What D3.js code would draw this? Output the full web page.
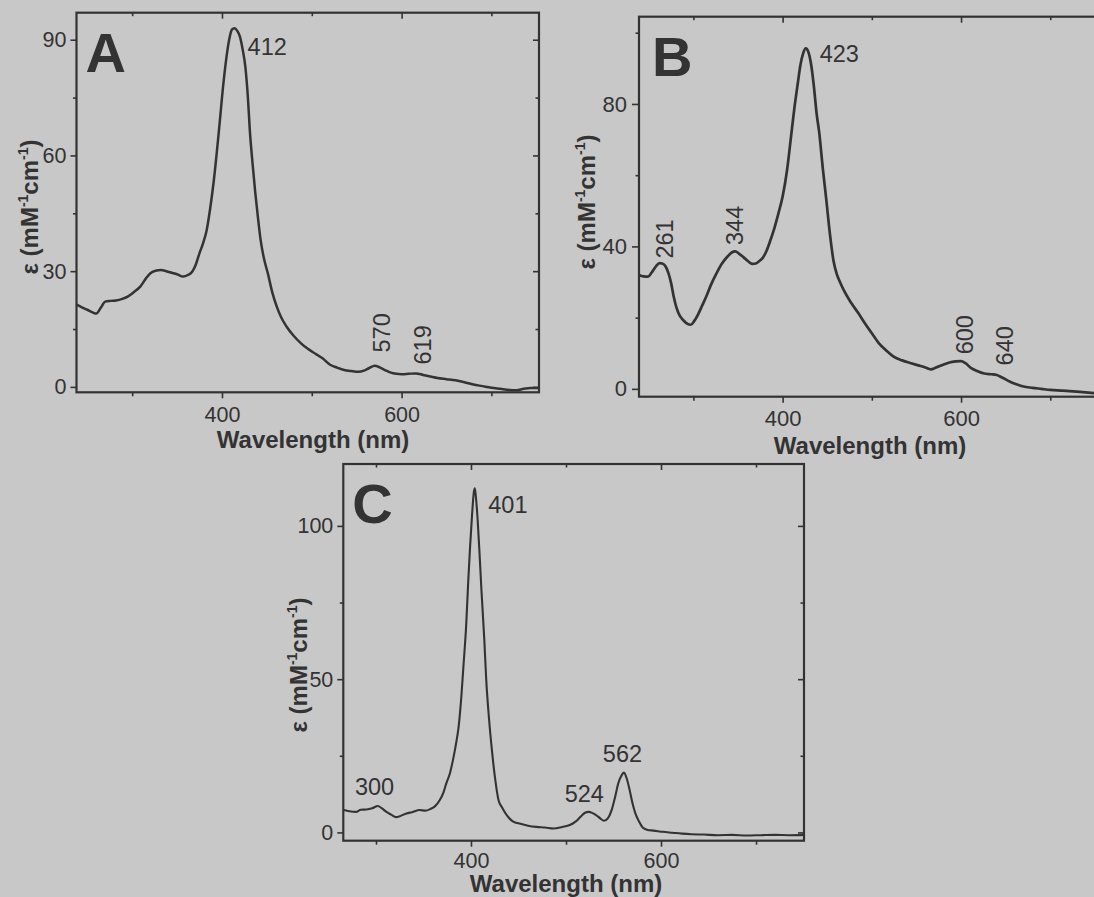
<!DOCTYPE html>
<html>
<head>
<meta charset="utf-8">
<script src="https://cdn.jsdelivr.net/npm/d3@7"></script>
<style>
  html, body { margin: 0; padding: 0; background: #c8c8c8; }
  svg { display: block; }
</style>
</head>
<body>
<svg id="chart" width="1094" height="897"></svg>
<script>
// ---------------- DATA ----------------
const xMajorTicks = [400, 600];
const xMinorTicks = [300, 500, 700];

// Panel A
const waveA = [238,244,250,256,260,265,270,276,282,289,295,302,309,315,320,326,332,338,344,350,357,362,367,371,375,379,383,387,391,396,402,405,408,411,414,417,420,423,426,429,431,434,437,440,443,447,451,456,461,466,472,480,488,496,504,512,520,528,536,544,552,558,564,570,576,582,588,594,600,608,616,624,632,640,650,660,670,680,690,700,710,720,728,736,744,753];
const epsA  = [21.3,20.6,20.0,19.3,19.0,20.5,22.1,22.3,22.4,22.8,23.4,24.6,26.0,28.0,29.4,30.1,30.3,30.0,29.6,29.2,28.6,29.0,29.9,31.8,34.7,37.3,40.7,46.5,53.7,65.0,79.6,85.5,90.0,92.6,93.0,92.3,90.8,87.5,83.0,74.5,66.5,58.0,50.5,44.0,38.1,33.0,29.5,24.5,20.8,18.0,15.6,13.2,11.3,9.8,8.6,7.4,5.8,5.0,4.4,4.1,3.9,4.2,4.9,5.5,5.0,4.3,3.7,3.4,3.3,3.4,3.5,3.1,2.7,2.3,2.0,1.7,1.2,0.6,0.2,-0.2,-0.5,-0.8,-0.9,-0.5,-0.3,-0.3];
const yTicksA = [0, 30, 60, 90];
const yMinorA = [15, 45, 75];
const peaksA = ["412", "570", "619"];

// Panel B
const waveB = [239,244,249,253,258,262,265,269,272,275,278,281,285,289,293,297,301,305,310,315,320,326,332,338,343,347,351,356,361,366,370,374,378,382,386,390,395,400,405,409,413,417,420,423,426,429,432,435,438,441,445,449,453,457,461,465,470,477,485,492,500,508,516,524,534,544,552,560,566,572,580,587,594,600,605,611,618,626,634,640,646,655,662,670,680,690,700,714,730,749,758];
const epsB  = [32.0,31.6,31.5,32.6,34.4,35.3,35.2,34.3,32.5,29.7,25.8,22.8,20.4,19.2,18.3,18.0,19.1,20.8,23.5,26.3,29.4,32.5,35.2,37.1,38.3,38.6,38.0,37.0,35.9,35.1,35.2,35.9,36.9,38.8,41.5,44.5,49.0,54.0,61.5,69.9,78.5,85.8,91.0,94.2,95.6,94.5,91.0,85.0,77.5,72.0,62.0,53.0,43.5,36.0,32.0,29.6,27.0,24.1,21.2,18.5,15.6,12.8,10.8,9.1,8.0,7.2,6.6,6.0,5.5,6.0,6.8,7.4,7.7,7.8,7.2,5.9,5.0,4.3,4.1,3.9,3.2,2.0,1.3,0.65,0.3,0.0,-0.3,-0.5,-0.8,-1.2,-1.4];
const yTicksB = [0, 40, 80];
const yMinorB = [20, 60, 100];
const peaksB = ["423", "261", "344", "600", "640"];

// Panel C
const waveC = [266,272,279,284,290,296,302,306,311,316,321,326,332,338,346,352,357,362,367,371,374,378,381,384,387,390,392,395,397,399,401,403,404,405,407,409,411,414,416,419,422,425,429,433,438,444,452,460,469,478,487,496,504,510,515,520,524,528,532,536,540,544,548,552,555,558,561,564,567,570,573,577,581,586,592,602,612,622,632,645,660,675,690,705,720,735,750];
const epsC  = [7.3,6.9,6.7,7.4,7.5,7.9,8.6,7.9,6.7,5.8,5.0,5.4,6.2,6.6,7.3,7.1,7.6,8.5,10.5,13.0,16.0,19.5,23.6,28.5,34.5,45.0,54.0,68.0,81.3,93.0,103.0,111.0,112.3,110.0,102.0,91.0,79.0,63.0,50.0,37.0,26.9,18.5,10.5,8.0,5.5,3.6,2.8,2.2,1.8,1.6,1.3,1.8,2.4,3.5,5.0,6.4,6.7,6.3,5.6,4.6,3.8,4.6,7.3,12.0,16.0,18.3,19.5,17.5,13.8,9.5,6.2,3.5,1.5,0.8,0.6,0.2,-0.1,-0.4,-0.6,-0.7,-0.9,-0.8,-1.0,-0.9,-0.8,-0.9,-0.8];
const yTicksC = [0, 50, 100];
const yMinorC = [25, 75];
const peaksC = ["401", "300", "524", "562"];

// ---------------- DRAWING ----------------
const FONT = "'Liberation Sans', Arial, Helvetica, sans-serif";
const INK = "#333333";
const svg = d3.select("#chart");
svg.append("rect").attr("width", 1094).attr("height", 897).attr("fill", "#c8c8c8");

// label placement (data-space anchors) for peak annotations
const annotA = [
  {t: peaksA[0], w: 428.5, v: 86.1, rot: false},
  {t: peaksA[1], w: 587.4, v: 14.0, rot: true},
  {t: peaksA[2], w: 632.6, v: 10.9, rot: true}
];
const annotB = [
  {t: peaksB[0], w: 441.5, v: 91.9, rot: false},
  {t: peaksB[1], w: 276.6, v: 42.1, rot: true},
  {t: peaksB[2], w: 355.6, v: 45.9, rot: true},
  {t: peaksB[3], w: 613.1, v: 15.2, rot: true},
  {t: peaksB[4], w: 658.6, v: 12.1, rot: true}
];
const annotC = [
  {t: peaksC[0], w: 418.2, v: 104.3, rot: false},
  {t: peaksC[1], w: 277.8, v: 12.2, rot: false},
  {t: peaksC[2], w: 498.6, v: 10.0, rot: false},
  {t: peaksC[3], w: 538.8, v: 22.9, rot: false}
];

const panels = [
  {letter: "A", wave: waveA, eps: epsA, yT: yTicksA, yM: yMinorA, annot: annotA,
   l: 76.5, r: 539, t: 12.7, b: 392.3, xd: [238, 753], yd: [-1.4, 97],
   ytick: 6, ypad: 4, xtick: 6, xpad: 8, tickFont: 21.5,
   xl: {x: 313, y: 448}, yl: {x: 38, y: 207}, lw: 2.5},
  {letter: "B", wave: waveB, eps: epsB, yT: yTicksB, yM: yMinorB, annot: annotB,
   l: 639, r: 1102, t: 16.7, b: 396.7, xd: [239, 758], yd: [-2.2, 104.5],
   ytick: 7, ypad: 5, xtick: 6, xpad: 8, tickFont: 22,
   xl: {x: 870, y: 454}, yl: {x: 595, y: 202}, lw: 2.7},
  {letter: "C", wave: waveC, eps: epsC, yT: yTicksC, yM: yMinorC, annot: annotC,
   l: 343.3, r: 804, t: 464, b: 840.7, xd: [265.6, 750.5], yd: [-2.7, 120.2],
   ytick: 6, ypad: 4, xtick: 6, xpad: 6, tickFont: 21.5,
   xl: {x: 566, y: 892}, yl: {x: 307, y: 665}, lw: 2.1}
];

function styleAxis(g, size) {
  g.attr("font-family", FONT).attr("font-size", size);
  g.select(".domain").remove();
  g.selectAll("line").attr("stroke", INK).attr("stroke-width", 1.6);
  g.selectAll("text").attr("fill", INK);
}

panels.forEach(p => {
  const x = d3.scaleLinear().domain(p.xd).range([p.l, p.r]);
  const y = d3.scaleLinear().domain(p.yd).range([p.b, p.t]);
  const g = svg.append("g");

  // axes: left/bottom outward, top/right inward
  const bottom = g.append("g").attr("transform", `translate(0,${p.b})`)
    .call(d3.axisBottom(x).tickValues(xMajorTicks).tickSize(p.xtick).tickPadding(p.xpad).tickSizeOuter(0));
  styleAxis(bottom, p.tickFont);
  const bottomMinor = g.append("g").attr("transform", `translate(0,${p.b})`)
    .call(d3.axisBottom(x).tickValues(xMinorTicks).tickSize(4).tickFormat("").tickSizeOuter(0));
  styleAxis(bottomMinor, p.tickFont);

  const top = g.append("g").attr("transform", `translate(0,${p.t})`)
    .call(d3.axisTop(x).tickValues(xMajorTicks).tickSize(-6).tickFormat("").tickSizeOuter(0));
  styleAxis(top, p.tickFont);
  const topMinor = g.append("g").attr("transform", `translate(0,${p.t})`)
    .call(d3.axisTop(x).tickValues(xMinorTicks).tickSize(-3.5).tickFormat("").tickSizeOuter(0));
  styleAxis(topMinor, p.tickFont);

  const left = g.append("g").attr("transform", `translate(${p.l},0)`)
    .call(d3.axisLeft(y).tickValues(p.yT).tickSize(p.ytick).tickPadding(p.ypad).tickFormat(d3.format("d")).tickSizeOuter(0));
  styleAxis(left, p.tickFont);
  const leftMinor = g.append("g").attr("transform", `translate(${p.l},0)`)
    .call(d3.axisLeft(y).tickValues(p.yM).tickSize(3.5).tickFormat("").tickSizeOuter(0));
  styleAxis(leftMinor, p.tickFont);

  const right = g.append("g").attr("transform", `translate(${p.r},0)`)
    .call(d3.axisRight(y).tickValues(p.yT).tickSize(-6).tickFormat("").tickSizeOuter(0));
  styleAxis(right, p.tickFont);
  const rightMinor = g.append("g").attr("transform", `translate(${p.r},0)`)
    .call(d3.axisRight(y).tickValues(p.yM).tickSize(-3.5).tickFormat("").tickSizeOuter(0));
  styleAxis(rightMinor, p.tickFont);

  // frame
  g.append("rect")
    .attr("x", p.l).attr("y", p.t)
    .attr("width", p.r - p.l).attr("height", p.b - p.t)
    .attr("fill", "none").attr("stroke", INK).attr("stroke-width", 2.2);

  // spectrum
  const pts = p.wave.map((w, i) => [w, p.eps[i]]);
  const line = d3.line().x(d => x(d[0])).y(d => y(d[1])).curve(d3.curveMonotoneX);
  g.append("path").datum(pts)
    .attr("d", line).attr("fill", "none")
    .attr("stroke", INK).attr("stroke-width", p.lw)
    .attr("stroke-linejoin", "round");

  // panel letter
  g.append("text")
    .attr("x", p.l + (p.letter === "B" ? 13 : 9))
    .attr("y", p.t + 59)
    .attr("font-family", FONT).attr("font-weight", "bold").attr("font-size", 56)
    .attr("fill", INK).text(p.letter);

  // peak annotations
  p.annot.forEach(a => {
    const t = g.append("text")
      .attr("font-family", FONT).attr("font-size", 23.5).attr("fill", INK).text(a.t);
    if (a.rot) {
      t.attr("text-anchor", "middle")
       .attr("transform", `translate(${x(a.w)},${y(a.v)}) rotate(-90)`);
    } else {
      t.attr("x", x(a.w)).attr("y", y(a.v));
    }
  });

  // x axis title
  g.append("text")
    .attr("x", p.xl.x).attr("y", p.xl.y)
    .attr("text-anchor", "middle")
    .attr("font-family", FONT).attr("font-weight", "bold").attr("font-size", 24)
    .attr("fill", INK).text("Wavelength (nm)");

  // y axis title
  const yt = g.append("text")
    .attr("text-anchor", "middle")
    .attr("transform", `translate(${p.yl.x},${p.yl.y}) rotate(-90)`)
    .attr("font-family", FONT).attr("font-weight", "bold").attr("font-size", 24)
    .attr("fill", INK);
  yt.append("tspan").text("\u03B5 (mM");
  yt.append("tspan").attr("font-size", 14).attr("dy", -10).text("-1");
  yt.append("tspan").attr("dy", 10).text("cm");
  yt.append("tspan").attr("font-size", 14).attr("dy", -10).text("-1");
  yt.append("tspan").attr("dy", 10).text(")");
});
</script>
</body>
</html>
